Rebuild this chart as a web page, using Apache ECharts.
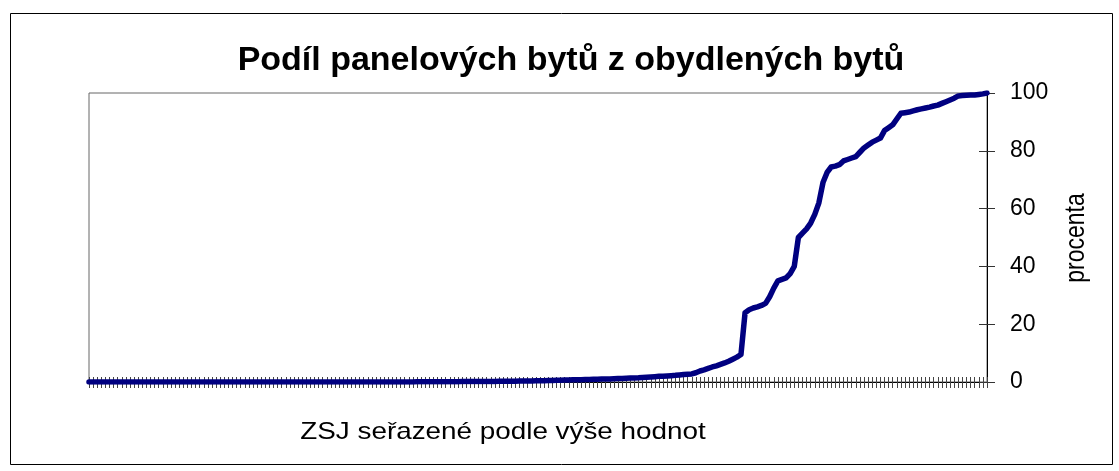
<!DOCTYPE html>
<html>
<head>
<meta charset="utf-8">
<script src="https://cdn.jsdelivr.net/npm/echarts@6/dist/echarts.min.js"></script>
<style>
  html, body { margin: 0; padding: 0; background: #fff; }
  #chart { width: 1119px; height: 471px; }
</style>
</head>
<body>
<div id="chart"></div>
<script>
// Podíl panelových bytů (%) v jednotlivých ZSJ, seřazeno vzestupně
const shares = [
  0,0,0,0,0,0,0,0,0,0,
  0,0,0,0,0,0,0,0,0,0,
  0,0,0,0,0,0,0,0,0,0,
  0,0,0,0,0,0,0,0,0,0,
  0,0,0,0,0,0,0,0,0,0,
  0,0,0,0,0,0,0,0,0,0,
  0,0,0,0,0,0,0,0,0,0,
  0,0,0,0,0,0,0,0,0,0,
  0.05,0.05,0.06,0.07,0.08,0.08,0.09,0.1,0.1,0.11,
  0.12,0.13,0.14,0.15,0.16,0.17,0.18,0.19,0.2,0.21,
  0.22,0.24,0.26,0.28,0.3,0.32,0.34,0.36,0.38,0.4,
  0.42,0.46,0.5,0.54,0.58,0.62,0.66,0.7,0.74,0.78,
  0.82,0.86,0.9,0.94,0.97,1.0,1.03,1.08,1.13,1.2,
  1.25,1.3,1.35,1.4,1.45,1.55,1.65,1.75,1.85,1.95,
  2.0,2.1,2.2,2.3,2.45,2.6,2.7,2.8,3.2,3.8,
  4.2,4.7,5.2,5.6,6.1,6.6,7.2,7.9,8.6,9.5,
  24,25,25.6,26,26.5,27.2,29.5,32.5,35,35.5,
  36,37.5,40,50,51.5,53,55,58,62,69,
  72.5,74.4,74.7,75.2,76.5,77,77.5,78,79.5,81,
  82,83,83.7,84.4,87,88,89,91,93,93.2,
  93.4,93.8,94.2,94.5,94.8,95.1,95.5,95.8,96.4,97,
  97.6,98.2,99,99.1,99.2,99.3,99.3,99.5,99.7,100
];
// pořadí ZSJ (popisky kategorií se nevykreslují)
const units = shares.map((_, i) => String(i + 1));
const yTicks = [0, 20, 40, 60, 80, 100];

const titleText = 'Podíl panelových bytů z obydlených bytů';
const xName = 'ZSJ seřazené podle výše hodnot';
const yName = 'procenta';

const FONT = '"Liberation Sans", Arial, sans-serif';
const chart = echarts.init(document.getElementById('chart'), null, { renderer: 'canvas' });

const baseX = {
  type: 'category',
  data: units,
  boundaryGap: false,
  position: 'bottom',
  axisLabel: { show: false },
  splitLine: { show: false }
};
const baseY = {
  type: 'value',
  min: yTicks[0],
  max: yTicks[yTicks.length - 1],
  interval: yTicks[1] - yTicks[0],
  position: 'right',
  splitLine: { show: false }
};

chart.setOption({
  animation: false,
  backgroundColor: '#fff',
  grid: {
    left: 89, right: 132, top: 93, bottom: 89,
    show: true, borderColor: '#666', borderWidth: 1, backgroundColor: '#fff'
  },
  xAxis: [
    Object.assign({}, baseX, {
      axisLine: { show: true, lineStyle: { color: '#000', width: 1 } },
      axisTick: { show: true, interval: 0, length: 6, inside: false, lineStyle: { color: '#444', width: 1 } }
    }),
    Object.assign({}, baseX, {
      axisLine: { show: false },
      axisTick: { show: true, interval: 0, length: 5, inside: true, lineStyle: { color: '#444', width: 1 } }
    })
  ],
  yAxis: [
    Object.assign({}, baseY, {
      axisLine: { show: true, lineStyle: { color: '#000', width: 1 } },
      axisTick: { show: true, length: 8, inside: false, lineStyle: { color: '#333' } },
      axisLabel: { show: true, margin: 23, color: '#000', fontSize: 23, fontFamily: FONT }
    }),
    Object.assign({}, baseY, {
      axisLine: { show: false },
      axisTick: { show: true, length: 8, inside: true, lineStyle: { color: '#333' } },
      axisLabel: { show: false }
    })
  ],
  series: [{
    type: 'line',
    data: shares,
    xAxisIndex: 0,
    yAxisIndex: 0,
    showSymbol: false,
    symbol: 'none',
    lineStyle: { color: '#000080', width: 5.5, join: 'round', cap: 'round' },
    z: 5
  }],
  graphic: [
    {
      type: 'rect', left: 8, top: 11, z: -1, silent: true,
      shape: { x: 0, y: 0, width: 1102, height: 451 },
      style: { fill: 'none', stroke: '#000', lineWidth: 1 }
    },
    {
      type: 'text', x: 571, y: 61, scaleX: 1.03,
      style: { text: titleText, font: 'bold 33px ' + FONT, fill: '#000', align: 'center', verticalAlign: 'middle' }
    },
    {
      type: 'text', x: 503, y: 432, scaleX: 1.16,
      style: { text: xName, font: '24px ' + FONT, fill: '#000', align: 'center', verticalAlign: 'middle' }
    },
    {
      type: 'text', x: 1076, y: 238, rotation: Math.PI / 2, scaleY: 1.2,
      style: { text: yName, font: '23px ' + FONT, fill: '#000', align: 'center', verticalAlign: 'middle' }
    }
  ]
});
</script>
</body>
</html>
